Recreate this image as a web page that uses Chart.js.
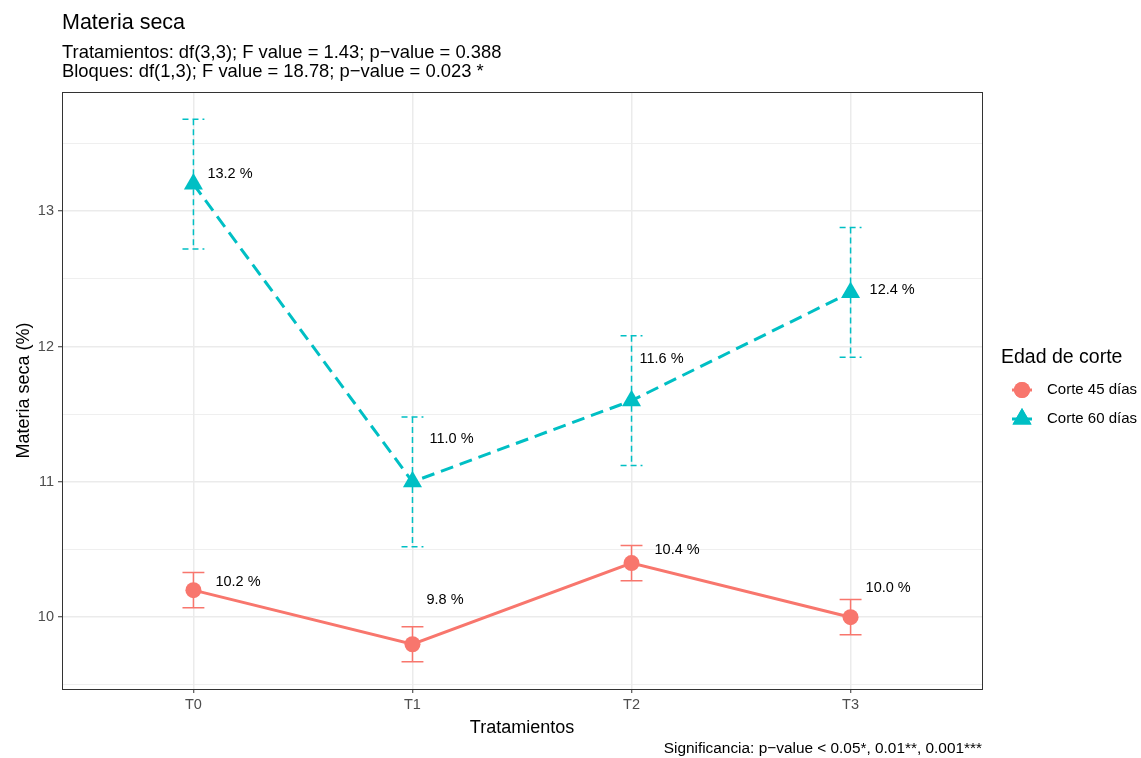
<!DOCTYPE html>
<html>
<head>
<meta charset="utf-8">
<script src="https://cdn.jsdelivr.net/npm/chart.js@4/dist/chart.umd.min.js"></script>
<style>
  html, body { margin: 0; padding: 0; background: #ffffff; }
  #wrap { width: 1141px; height: 758px; position: relative; }
</style>
</head>
<body>
<div id="wrap"><canvas id="c" width="1141" height="758"></canvas></div>
<script>
// ---------------- data ----------------
const categories = ['T0', 'T1', 'T2', 'T3'];
const corte45 = [10.2, 9.8, 10.4, 10.0];
const corte45Err = [0.13, 0.13, 0.13, 0.13];
const corte60 = [13.2, 11.0, 11.6, 12.4];
const corte60Err = [0.48, 0.48, 0.48, 0.48];
const yTicks = [9.5, 10, 10.5, 11, 11.5, 12, 12.5, 13, 13.5];
const seriesNames = ['Corte 45 días', 'Corte 60 días'];

const titleText = 'Materia seca';
const subtitleLines = [
  'Tratamientos: df(3,3); F value = 1.43; p\u2212value = 0.388',
  'Bloques: df(1,3); F value = 18.78; p\u2212value = 0.023 *'
];
const captionText = 'Significancia: p\u2212value < 0.05*, 0.01**, 0.001***';
const xTitle = 'Tratamientos';
const yTitle = 'Materia seca (%)';
const legendTitle = 'Edad de corte';

// ---------------- style ----------------
const RED = '#F8766D';
const CYAN = '#00BFC4';
const FONT = '"Liberation Sans", Arial, sans-serif';
// pixel offsets of the value labels from their points (repelled labels)
const labelOffsets45 = [[22, -8], [14, -44], [23, -13], [15, -29]];
const labelOffsets60 = [[14, -10], [17, -43], [8, -42], [19, -2]];

const yMin = Math.min(...corte45.map((v, i) => v - corte45Err[i]), ...corte60.map((v, i) => v - corte60Err[i]));
const yMax = Math.max(...corte45.map((v, i) => v + corte45Err[i]), ...corte60.map((v, i) => v + corte60Err[i]));
const yPad = (yMax - yMin) * 0.05;

const toPts = arr => arr.map((v, i) => ({ x: i, y: v }));

const decorPlugin = {
  id: 'decor',
  beforeDatasetsDraw(chart) {
    const ctx = chart.ctx;
    const xs = chart.scales.x, ys = chart.scales.y;
    const half = 0.05;
    const drawBars = (vals, errs, color, dash) => {
      ctx.save();
      ctx.strokeStyle = color;
      ctx.lineWidth = 1.5;
      ctx.setLineDash(dash);
      vals.forEach((v, i) => {
        const x = xs.getPixelForValue(i);
        const x0 = xs.getPixelForValue(i - half), x1 = xs.getPixelForValue(i + half);
        const yt = ys.getPixelForValue(v + errs[i]);
        const yb = ys.getPixelForValue(v - errs[i]);
        ctx.beginPath();
        ctx.moveTo(x, yt); ctx.lineTo(x, yb);
        ctx.moveTo(x0, yt); ctx.lineTo(x1, yt);
        ctx.moveTo(x0, yb); ctx.lineTo(x1, yb);
        ctx.stroke();
      });
      ctx.restore();
    };
    drawBars(corte45, corte45Err, RED, []);
    drawBars(corte60, corte60Err, CYAN, [6, 4]);
  },
  afterDraw(chart) {
    const ctx = chart.ctx;
    const a = chart.chartArea;
    const xs = chart.scales.x, ys = chart.scales.y;
    ctx.save();
    // panel border
    ctx.strokeStyle = '#333333';
    ctx.lineWidth = 1;
    ctx.setLineDash([]);
    ctx.strokeRect(Math.round(a.left) + 0.5, Math.round(a.top) + 0.5, Math.round(a.right - a.left), Math.round(a.bottom - a.top));

    // value labels
    ctx.fillStyle = '#000000';
    ctx.font = '14.5px ' + FONT;
    ctx.textAlign = 'left';
    ctx.textBaseline = 'middle';
    const lab = (vals, offs) => vals.forEach((v, i) => {
      const x = xs.getPixelForValue(i), y = ys.getPixelForValue(v);
      ctx.fillText(v.toFixed(1) + ' %', x + offs[i][0], y + offs[i][1]);
    });
    lab(corte45, labelOffsets45);
    lab(corte60, labelOffsets60);

    // titles
    ctx.textBaseline = 'alphabetic';
    ctx.fillStyle = '#000000';
    ctx.font = '21.5px ' + FONT;
    ctx.fillText(titleText, a.left, 29);
    ctx.font = '18.4px ' + FONT;
    ctx.fillText(subtitleLines[0], a.left, 58);
    ctx.fillText(subtitleLines[1], a.left, 77);

    // axis titles
    ctx.font = '18px ' + FONT;
    ctx.textAlign = 'center';
    ctx.fillText(xTitle, (a.left + a.right) / 2, 733);
    ctx.save();
    ctx.translate(29, (a.top + a.bottom) / 2);
    ctx.rotate(-Math.PI / 2);
    ctx.fillText(yTitle, 0, 0);
    ctx.restore();

    // caption
    ctx.font = '15.4px ' + FONT;
    ctx.textAlign = 'right';
    ctx.fillText(captionText, a.right, 753);

    // legend
    ctx.textAlign = 'left';
    ctx.font = '19.5px ' + FONT;
    ctx.fillText(legendTitle, 1001, 363);
    ctx.font = '15px ' + FONT;
    ctx.textBaseline = 'middle';
    const keyX = 1022;
    const keys = [
      { y: 390, color: RED, style: 'circle', r: 8 },
      { y: 419, color: CYAN, style: 'triangle', r: 11 }
    ];
    keys.forEach((k, i) => {
      ctx.strokeStyle = k.color;
      ctx.lineWidth = 3;
      ctx.beginPath();
      ctx.moveTo(keyX - 10, k.y); ctx.lineTo(keyX + 10, k.y);
      ctx.stroke();
      ctx.fillStyle = k.color;
      Chart.helpers.drawPoint(ctx, { pointStyle: k.style, radius: k.r, borderWidth: 0 }, keyX, k.y);
      ctx.fill();
      ctx.fillStyle = '#000000';
      ctx.fillText(seriesNames[i], 1047, k.y);
    });
    ctx.restore();
  }
};

new Chart(document.getElementById('c'), {
  type: 'line',
  data: {
    datasets: [
      {
        label: seriesNames[0],
        data: toPts(corte45),
        borderColor: RED,
        backgroundColor: RED,
        borderWidth: 3,
        pointStyle: 'circle',
        pointRadius: 8,
        pointBorderWidth: 0,
        pointBackgroundColor: RED,
        tension: 0
      },
      {
        label: seriesNames[1],
        data: toPts(corte60),
        borderColor: CYAN,
        backgroundColor: CYAN,
        borderWidth: 3,
        borderDash: [13, 7],
        pointStyle: 'triangle',
        pointRadius: 11,
        pointBorderWidth: 0,
        pointBackgroundColor: CYAN,
        tension: 0
      }
    ]
  },
  options: {
    responsive: false,
    animation: false,
    events: [],
    layout: { padding: { left: 0, top: 92, right: 159, bottom: 0 } },
    plugins: { legend: { display: false }, tooltip: { enabled: false } },
    scales: {
      x: {
        type: 'linear',
        min: -0.6,
        max: 3.6,
        afterBuildTicks(scale) { scale.ticks = categories.map((c, i) => ({ value: i })); },
        afterFit(scale) { scale.height = 69; },
        ticks: {
          callback: v => categories[v],
          color: '#4D4D4D',
          font: { family: FONT, size: 14.5 },
          padding: 3,
          maxRotation: 0,
          autoSkip: false
        },
        grid: { color: '#EBEBEB', lineWidth: 1.5, tickColor: '#333333', tickLength: 4, tickWidth: 1 },
        border: { display: false }
      },
      y: {
        type: 'linear',
        min: yMin - yPad,
        max: yMax + yPad,
        afterBuildTicks(scale) { scale.ticks = yTicks.map(v => ({ value: v })); },
        afterFit(scale) { scale.width = 62; },
        ticks: {
          callback: v => (Number.isInteger(v) ? String(v) : ''),
          color: '#4D4D4D',
          font: { family: FONT, size: 14.5 },
          padding: 4,
          autoSkip: false
        },
        grid: {
          color: '#EBEBEB',
          lineWidth: c => (Number.isInteger(c.tick.value) ? 1.5 : 0.8),
          tickColor: c => (Number.isInteger(c.tick.value) ? '#333333' : 'rgba(0,0,0,0)'),
          tickLength: 4,
          tickWidth: 1
        },
        border: { display: false }
      }
    }
  },
  plugins: [decorPlugin]
});
</script>
</body>
</html>
